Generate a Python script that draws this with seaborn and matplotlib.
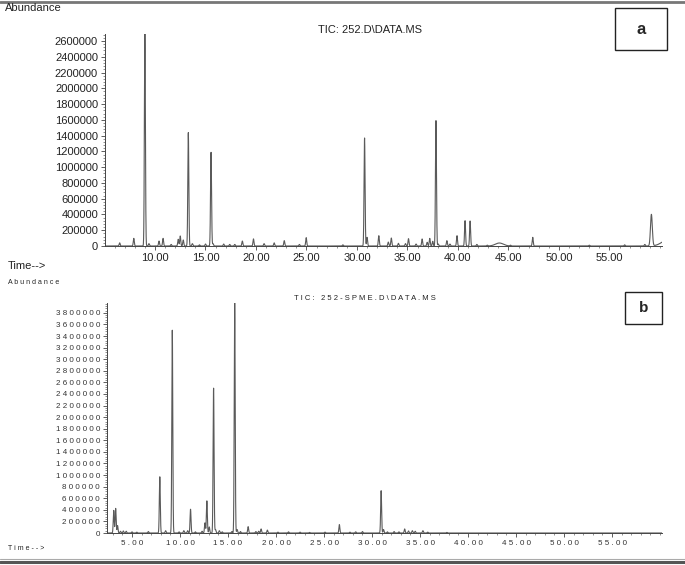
import numpy as np
import pandas as pd
import matplotlib
matplotlib.use("Agg")
import matplotlib.pyplot as plt
from matplotlib.ticker import MultipleLocator, FuncFormatter
from matplotlib.patches import Rectangle
import seaborn as sns

# ---------------- data ----------------
# Panel a: TIC 252.D  -- peak retention times (min) and heights (abundance)
a_peak_times = [6.5, 7.9, 9.0, 9.4, 10.4, 10.8, 11.6, 12.3, 12.5, 12.8, 13.3, 13.7,
                14.4, 15.0, 15.55, 15.75, 16.8, 17.4, 17.9, 18.65, 19.75, 20.8, 21.8,
                22.8, 24.3, 24.97, 28.6, 30.75, 31.0, 32.16, 33.1, 33.4, 34.1, 34.8,
                35.1, 35.85, 36.45, 36.95, 37.2, 37.5, 37.82, 38.05, 38.9, 39.2, 39.9,
                40.7, 41.2, 41.87, 42.9, 44.1, 45.2, 47.4, 53.0, 56.5, 58.5, 59.15, 60.8]
a_peak_heights = [40000, 97000, 2720000, 30000, 63000, 97000, 20000, 85000, 127000, 76000,
                  1438000, 30000, 15000, 25000, 1188000, 30000, 25000, 20000, 20000, 63000,
                  90000, 30000, 40000, 68000, 20000, 106000, 15000, 1370000, 110000, 131000,
                  50000, 101000, 34000, 30000, 93000, 25000, 89000, 47000, 97000, 60000,
                  1590000, 25000, 68000, 25000, 131000, 321000, 317000, 20000, 10000, 38000,
                  10000, 110000, 10000, 15000, 20000, 400000, 80000]
a_peak_widths = [0.05] * len(a_peak_times)
a_peak_widths[a_peak_times.index(44.1)] = 0.4
a_peak_widths[a_peak_times.index(59.15)] = 0.09
a_peak_widths[a_peak_times.index(60.8)] = 0.6
a_yticks = list(range(0, 2600001, 200000))
a_xticks = [10, 15, 20, 25, 30, 35, 40, 45, 50, 55]

# Panel b: TIC 252-SPME.D
b_peak_times = [3.1, 3.3, 3.5, 3.8, 4.1, 4.4, 5.0, 5.5, 6.7, 7.9, 8.5, 9.2, 9.9, 10.4,
                10.8, 11.1, 11.6, 12.3, 12.6, 12.8, 13.05, 13.5, 13.7, 14.1, 14.4, 15.4,
                15.7, 15.95, 16.3, 17.1, 17.9, 18.2, 18.45, 19.1, 20.2, 21.3, 22.5, 23.5,
                25.1, 26.6, 27.7, 28.3, 29.0, 30.95, 31.2, 31.6, 32.3, 32.8, 33.4, 33.8,
                34.2, 34.5, 35.3, 35.8, 37.8]
b_peak_heights = [390000, 425000, 128000, 30000, 35000, 30000, 20000, 15000, 25000, 970000,
                  40000, 3500000, 20000, 40000, 40000, 410000, 20000, 30000, 175000, 555000,
                  105000, 2500000, 60000, 40000, 20000, 25000, 3980000, 60000, 25000, 110000,
                  25000, 30000, 70000, 50000, 15000, 20000, 15000, 10000, 15000, 145000,
                  15000, 20000, 25000, 730000, 60000, 20000, 25000, 20000, 70000, 35000,
                  40000, 30000, 40000, 15000, 10000]
b_peak_widths = [0.05] * len(b_peak_times)
b_yticks = list(range(0, 3800001, 200000))
b_xticks = [5, 10, 15, 20, 25, 30, 35, 40, 45, 50, 55]


def trace(t0, t1, times, heights, widths):
    t = np.arange(t0, t1, 0.005)
    y = np.zeros_like(t)
    for c, h, w in zip(times, heights, widths):
        y += h * np.exp(-0.5 * ((t - c) / w) ** 2)
    return pd.DataFrame({"time": t, "abundance": y})


df_a = trace(5.05, 60.25, a_peak_times, a_peak_heights, a_peak_widths)
df_b = trace(2.4, 60.25, b_peak_times, b_peak_heights, b_peak_widths)

# ---------------- figure ----------------
sns.set_theme(style="white")
plt.rcParams["font.family"] = ["Liberation Sans", "DejaVu Sans"]

W, H = 685, 565
fig = plt.figure(figsize=(6.85, 5.65), dpi=100)


def box(x0, y0, x1, y1):
    return [x0 / W, 1 - y1 / H, (x1 - x0) / W, (y1 - y0) / H]


line_col = "#5a5a5a"

# ---- panel a
ax_a = fig.add_axes(box(105, 34, 662, 246))
sns.lineplot(data=df_a, x="time", y="abundance", ax=ax_a, color=line_col,
             linewidth=0.8, estimator=None, sort=False)
ax_a.set_xlim(5.05, 60.2)
ax_a.set_ylim(0, 2689000)
ax_a.set_xticks(a_xticks)
ax_a.set_yticks(a_yticks)
ax_a.xaxis.set_minor_locator(MultipleLocator(1))
ax_a.yaxis.set_minor_locator(MultipleLocator(40000))
ax_a.xaxis.set_major_formatter(FuncFormatter(lambda v, p: f"{v:.2f}"))
ax_a.yaxis.set_major_formatter(FuncFormatter(lambda v, p: f"{v:.0f}"))
ax_a.tick_params(axis="both", which="major", length=3, width=0.6, color="#444444",
                 labelsize=8, pad=2, labelcolor="#222222")
ax_a.tick_params(axis="both", which="minor", length=1.5, width=0.5, color="#666666")
ax_a.tick_params(axis="x", which="both", bottom=True)
ax_a.tick_params(axis="y", which="both", left=True)
for s in ["top", "right"]:
    ax_a.spines[s].set_visible(False)
for s in ["left", "bottom"]:
    ax_a.spines[s].set_linewidth(0.7)
    ax_a.spines[s].set_color("#444444")
ax_a.set_xlabel("")
ax_a.set_ylabel("")

# ---- panel b
ax_b = fig.add_axes(box(107, 303, 662, 533))
sns.lineplot(data=df_b, x="time", y="abundance", ax=ax_b, color=line_col,
             linewidth=0.8, estimator=None, sort=False)
ax_b.set_xlim(2.4, 60.2)
ax_b.set_ylim(0, 3970000)
ax_b.set_xticks(b_xticks)
ax_b.set_yticks(b_yticks)
ax_b.xaxis.set_minor_locator(MultipleLocator(1))
ax_b.yaxis.set_minor_locator(MultipleLocator(40000))
ax_b.xaxis.set_major_formatter(FuncFormatter(lambda v, p: " ".join(f"{v:.2f}")))
ax_b.yaxis.set_major_formatter(FuncFormatter(lambda v, p: " ".join(f"{v:.0f}")))
ax_b.tick_params(axis="both", which="major", length=3, width=0.6, color="#444444",
                 labelsize=5.8, pad=2, labelcolor="#333333")
ax_b.tick_params(axis="both", which="minor", length=1.5, width=0.5, color="#666666")
ax_b.tick_params(axis="x", which="both", bottom=True)
ax_b.tick_params(axis="y", which="both", left=True)
for s in ["top", "right"]:
    ax_b.spines[s].set_visible(False)
for s in ["left", "bottom"]:
    ax_b.spines[s].set_linewidth(0.7)
    ax_b.spines[s].set_color("#444444")
ax_b.set_xlabel("")
ax_b.set_ylabel("")

# ---- texts
fig.text(5 / W, 1 - 8 / H, "Abundance", fontsize=8, color="#222222", va="center", ha="left")
fig.text(370 / W, 1 - 30 / H, "TIC: 252.D\\DATA.MS", fontsize=8, color="#222222",
         va="center", ha="center")
fig.text(8 / W, 1 - 266 / H, "Time-->", fontsize=8, color="#222222", va="center", ha="left")

fig.text(8 / W, 1 - 282 / H, " ".join("Abundance"), fontsize=5, color="#222222",
         va="center", ha="left")
fig.text(365 / W, 1 - 298 / H, " ".join("TIC: 252-SPME.D\\DATA.MS"), fontsize=5.5,
         color="#222222", va="center", ha="center")
fig.text(8 / W, 1 - 549 / H, " ".join("Time-->"), fontsize=5, color="#222222",
         va="center", ha="left")

# ---- panel label boxes
fig.patches.append(Rectangle((615 / W, 1 - 50 / H), 52 / W, 42 / H, transform=fig.transFigure,
                             fill=False, edgecolor="#222222", linewidth=1.0))
fig.text(641 / W, 1 - 29 / H, "a", fontsize=12, fontweight="bold", ha="center", va="center")
fig.patches.append(Rectangle((625 / W, 1 - 324 / H), 37 / W, 32 / H, transform=fig.transFigure,
                             fill=False, edgecolor="#222222", linewidth=1.0))
fig.text(643.5 / W, 1 - 308 / H, "b", fontsize=11, fontweight="bold", ha="center", va="center")

# ---- frame rules at top and bottom
fig.add_artist(plt.Line2D([0, 1], [1 - 1.5 / H, 1 - 1.5 / H], transform=fig.transFigure,
                          color="#777777", linewidth=2.0))
fig.add_artist(plt.Line2D([0, 1], [1 - 559 / H, 1 - 559 / H], transform=fig.transFigure,
                          color="#aaaaaa", linewidth=0.8))
fig.add_artist(plt.Line2D([0, 1], [1 - 562 / H, 1 - 562 / H], transform=fig.transFigure,
                          color="#555555", linewidth=2.2))

fig.savefig("out.png", dpi=100)
